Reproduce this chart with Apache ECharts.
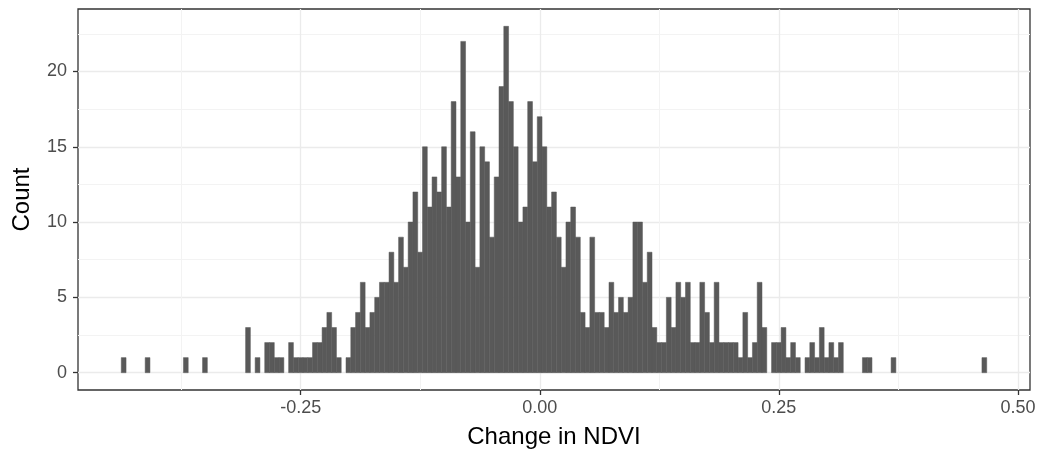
<!DOCTYPE html>
<html>
<head>
<meta charset="utf-8">
<script src="https://cdn.jsdelivr.net/npm/echarts@6/dist/echarts.min.js"></script>
<style>
html,body{margin:0;padding:0;background:#fff;}
#chart{width:1040px;height:454px;}
</style>
</head>
<body>
<div id="chart"></div>
<script>
// Histogram bins (left edge of first bin and bin width), counts per bin
var binStart = -0.4376;
var binWidth = 0.005;
var counts = [
  1,0,0,0,0,1,0,0,0,0,
  0,0,0,1,0,0,0,1,0,0,
  0,0,0,0,0,0,3,0,1,0,
  2,2,1,1,0,2,1,1,1,1,
  2,2,3,4,3,1,0,1,3,4,
  6,3,4,5,6,6,8,6,9,7,
  10,12,8,15,11,13,12,15,11,18,
  13,22,10,16,7,15,14,9,13,19,
  23,18,15,10,11,18,14,17,15,11,
  12,9,7,10,11,9,4,3,9,4,
  4,3,6,4,5,4,5,10,10,6,
  8,3,2,2,5,3,6,5,6,2,
  2,6,4,2,6,2,2,2,2,1,
  4,1,2,6,3,0,2,2,3,1,
  2,1,0,1,2,1,3,1,2,1,
  2,0,0,0,0,1,1,0,0,0,
  0,1,0,0,0,0,0,0,0,0,
  0,0,0,0,0,0,0,0,0,0,
  1
];
var xTicks = [-0.25, 0, 0.25, 0.5];
var xMinor = [-0.375, -0.125, 0.125, 0.375];
var yTicks = [0, 5, 10, 15, 20];
var yMinor = [2.5, 7.5, 12.5, 17.5, 22.5];
var xTitle = 'Change in NDVI';
var yTitle = 'Count';

var xMin = -0.48285, xMax = 0.51265;
var yMin = -1.15, yMax = 24.15;

var data = counts.map(function (c, i) {
  var x0 = binStart + i * binWidth;
  return [x0, x0 + binWidth, c];
});

var font = '"Liberation Sans", Arial, Helvetica, sans-serif';
var chart = echarts.init(document.getElementById('chart'), null, {renderer: 'canvas'});
chart.setOption({
  animation: false,
  backgroundColor: '#ffffff',
  grid: {
    left: 78, right: 10, top: 9, bottom: 64,
    show: true, borderColor: '#333333', borderWidth: 1.3, backgroundColor: '#ffffff',
    containLabel: false, outerBoundsMode: 'none'
  },
  xAxis: [{
    type: 'value', min: xMin, max: xMax, position: 'bottom',
    axisLine: {show: false, onZero: false},
    axisTick: {show: true, length: 5, lineStyle: {color: '#333333', width: 1.3}, customValues: xTicks},
    axisLabel: {
      customValues: xTicks, margin: 9, color: '#4d4d4d', fontSize: 18, fontFamily: font,
      formatter: function (v) { return v.toFixed(2); }
    },
    splitLine: {show: true, lineStyle: {color: '#ebebeb', width: 1.3}},
    name: xTitle, nameLocation: 'middle', nameGap: 35,
    nameTextStyle: {color: '#000000', fontSize: 24, fontFamily: font}
  }, {
    type: 'value', min: xMin, max: xMax, position: 'bottom',
    axisLine: {show: false, onZero: false}, axisLabel: {show: false},
    axisTick: {show: false, customValues: xMinor},
    splitLine: {show: true, lineStyle: {color: '#f3f3f3', width: 1}}
  }],
  yAxis: [{
    type: 'value', min: yMin, max: yMax, position: 'left',
    axisLine: {show: false, onZero: false},
    axisTick: {show: true, length: 5, lineStyle: {color: '#333333', width: 1.3}, customValues: yTicks},
    axisLabel: {customValues: yTicks, margin: 11, color: '#4d4d4d', fontSize: 18, fontFamily: font},
    splitLine: {show: true, lineStyle: {color: '#ebebeb', width: 1.3}},
    name: yTitle, nameLocation: 'middle', nameGap: 44, nameRotate: 90,
    nameTextStyle: {color: '#000000', fontSize: 24, fontFamily: font}
  }, {
    type: 'value', min: yMin, max: yMax, position: 'left',
    axisLine: {show: false, onZero: false}, axisLabel: {show: false},
    axisTick: {show: false, customValues: yMinor},
    splitLine: {show: true, lineStyle: {color: '#f3f3f3', width: 1}}
  }],
  series: [{
    type: 'custom',
    xAxisIndex: 0, yAxisIndex: 0,
    clip: true,
    data: data,
    encode: {x: [0, 1], y: 2},
    renderItem: function (params, api) {
      var c = api.value(2);
      if (!c) return null;
      var p0 = api.coord([api.value(0), c]);
      var p1 = api.coord([api.value(1), 0]);
      return {
        type: 'rect',
        shape: {x: p0[0], y: p0[1], width: p1[0] - p0[0], height: p1[1] - p0[1]},
        style: {fill: '#595959', stroke: '#595959', lineWidth: 0.5}
      };
    }
  }]
});
</script>
</body>
</html>
